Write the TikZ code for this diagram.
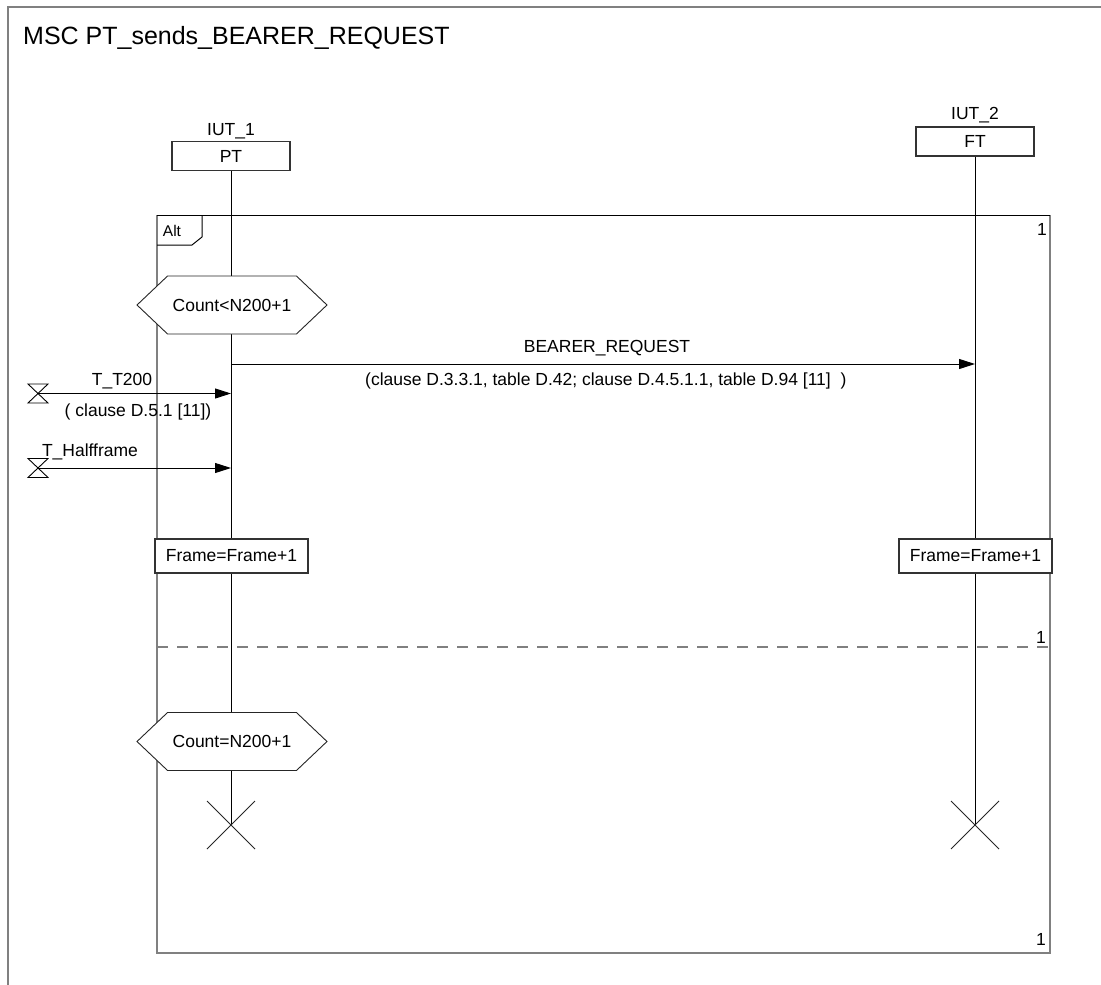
\documentclass[tikz,border=0pt]{standalone}
\usepackage{fontspec}
\setmainfont{Liberation Sans}
\usetikzlibrary{arrows.meta,shapes.symbols,calc}
\begin{document}
\begin{tikzpicture}[x=1pt,y=-1pt,
  txt/.style={font=\fontsize{17.5}{20}\selectfont, inner sep=0pt},
  frameline/.style={draw=black!50, line width=1.5pt},
  life/.style={draw=black, line width=1pt},
  box/.style={draw=black!80, line width=1.1pt, fill=white, minimum width=118pt, minimum height=29pt, inner sep=0pt, font=\fontsize{17.5}{20}\selectfont},
  action/.style={box, minimum width=153pt, minimum height=34pt},
  msg/.style={draw=black, line width=1pt, -{Triangle[length=16pt,width=10pt]}},
  hex/.style={signal, signal to=west and east, signal pointer angle=87, draw=black!85, line width=0.9pt, fill=white, minimum width=190pt, minimum height=58pt, inner sep=0pt, font=\fontsize{17.5}{20}\selectfont},
  stopx/.style={draw=black!85, line width=0.9pt},
  timer/.style={draw=black, line width=0.9pt},
]
\useasboundingbox (0,0) rectangle (1101,985);
\fill[white] (0,0) rectangle (1101,985);
% outer frame
\draw[frameline] (8,995) -- (8,7) -- (1110,7);
\node[anchor=west, font=\fontsize{25}{30}\selectfont, inner sep=0pt] (title) at (23,38) {MSC PT\_sends\_BEARER\_REQUEST};
% instance heads
\node[txt] (iut1) at (231,131) {IUT\_1};
\node[box] (pt) at (231,156) {PT};
\node[txt] (iut2) at (975,115) {IUT\_2};
\node[box] (ft) at (975,141.5) {FT};
% alt frame
\draw[frameline] (157,215) -- (157,953) -- (1050,953) -- (1050,215);
\draw[draw=black, line width=1pt] (157,215) -- (1050,215);
\draw[draw=black, line width=1pt] (157,245) -- (192,245) -- (202,237) -- (202,215);
\node[font=\fontsize{15.5}{18}\selectfont, inner sep=0pt] (alt) at (172,231) {Alt};
\node[txt] (one1) at (1042,229) {1};
\node[txt] (one2) at (1041,637) {1};
\node[txt] (one3) at (1041,939) {1};
\draw[draw=black!50, line width=1.5pt, dash pattern=on 11pt off 9pt] (157,647) -- (1050,647);
% lifelines
\coordinate (ptend) at (231,825);
\coordinate (ftend) at (975,825);
\draw[life] (pt.south) -- (ptend);
\draw[life] (ft.south) -- (ftend);
% conditions
\node[hex] (cond1) at (232,305) {Count<N200+1};
\node[hex] (cond2) at (232,741.5) {Count=N200+1};
% message
\coordinate (ptbr) at (231,364);
\coordinate (ftbr) at (975,364);
\draw[msg] (ptbr) -- (ftbr);
\node[txt] (brl) at (607,348) {BEARER\_REQUEST};
\node[txt, anchor=west] (brc) at (365,381) {(clause D.3.3.1, table D.42; clause D.4.5.1.1, table D.94 [11]\ \ )};
% timers
\coordinate (tm1) at (38,393.5);
\coordinate (pt1) at (231,393.5);
\draw[timer, shift={(tm1)}] (-10,-9.5) -- (10,-9.5) -- (-10,9.5) -- (10,9.5) -- cycle;
\draw[msg] (tm1) -- (pt1);
\node[txt] (t200) at (122,381) {T\_T200};
\node[txt] (t200c) at (138,412) {( clause D.5.1 [11])};
\coordinate (tm2) at (38,468);
\coordinate (pt2) at (231,468);
\draw[timer, shift={(tm2)}] (-10,-9.5) -- (10,-9.5) -- (-10,9.5) -- (10,9.5) -- cycle;
\draw[msg] (tm2) -- (pt2);
\node[txt] (thf) at (90,452) {T\_Halfframe};
% actions
\node[action] (act1) at (231.5,556) {Frame=Frame+1};
\node[action] (act2) at (975.5,556) {Frame=Frame+1};
% stops
\draw[stopx] ($(ptend)+(-24,-24)$) -- ($(ptend)+(24,24)$);
\draw[stopx] ($(ptend)+(-24,24)$) -- ($(ptend)+(24,-24)$);
\draw[stopx] ($(ftend)+(-24,-24)$) -- ($(ftend)+(24,24)$);
\draw[stopx] ($(ftend)+(-24,24)$) -- ($(ftend)+(24,-24)$);
\end{tikzpicture}
\end{document}
